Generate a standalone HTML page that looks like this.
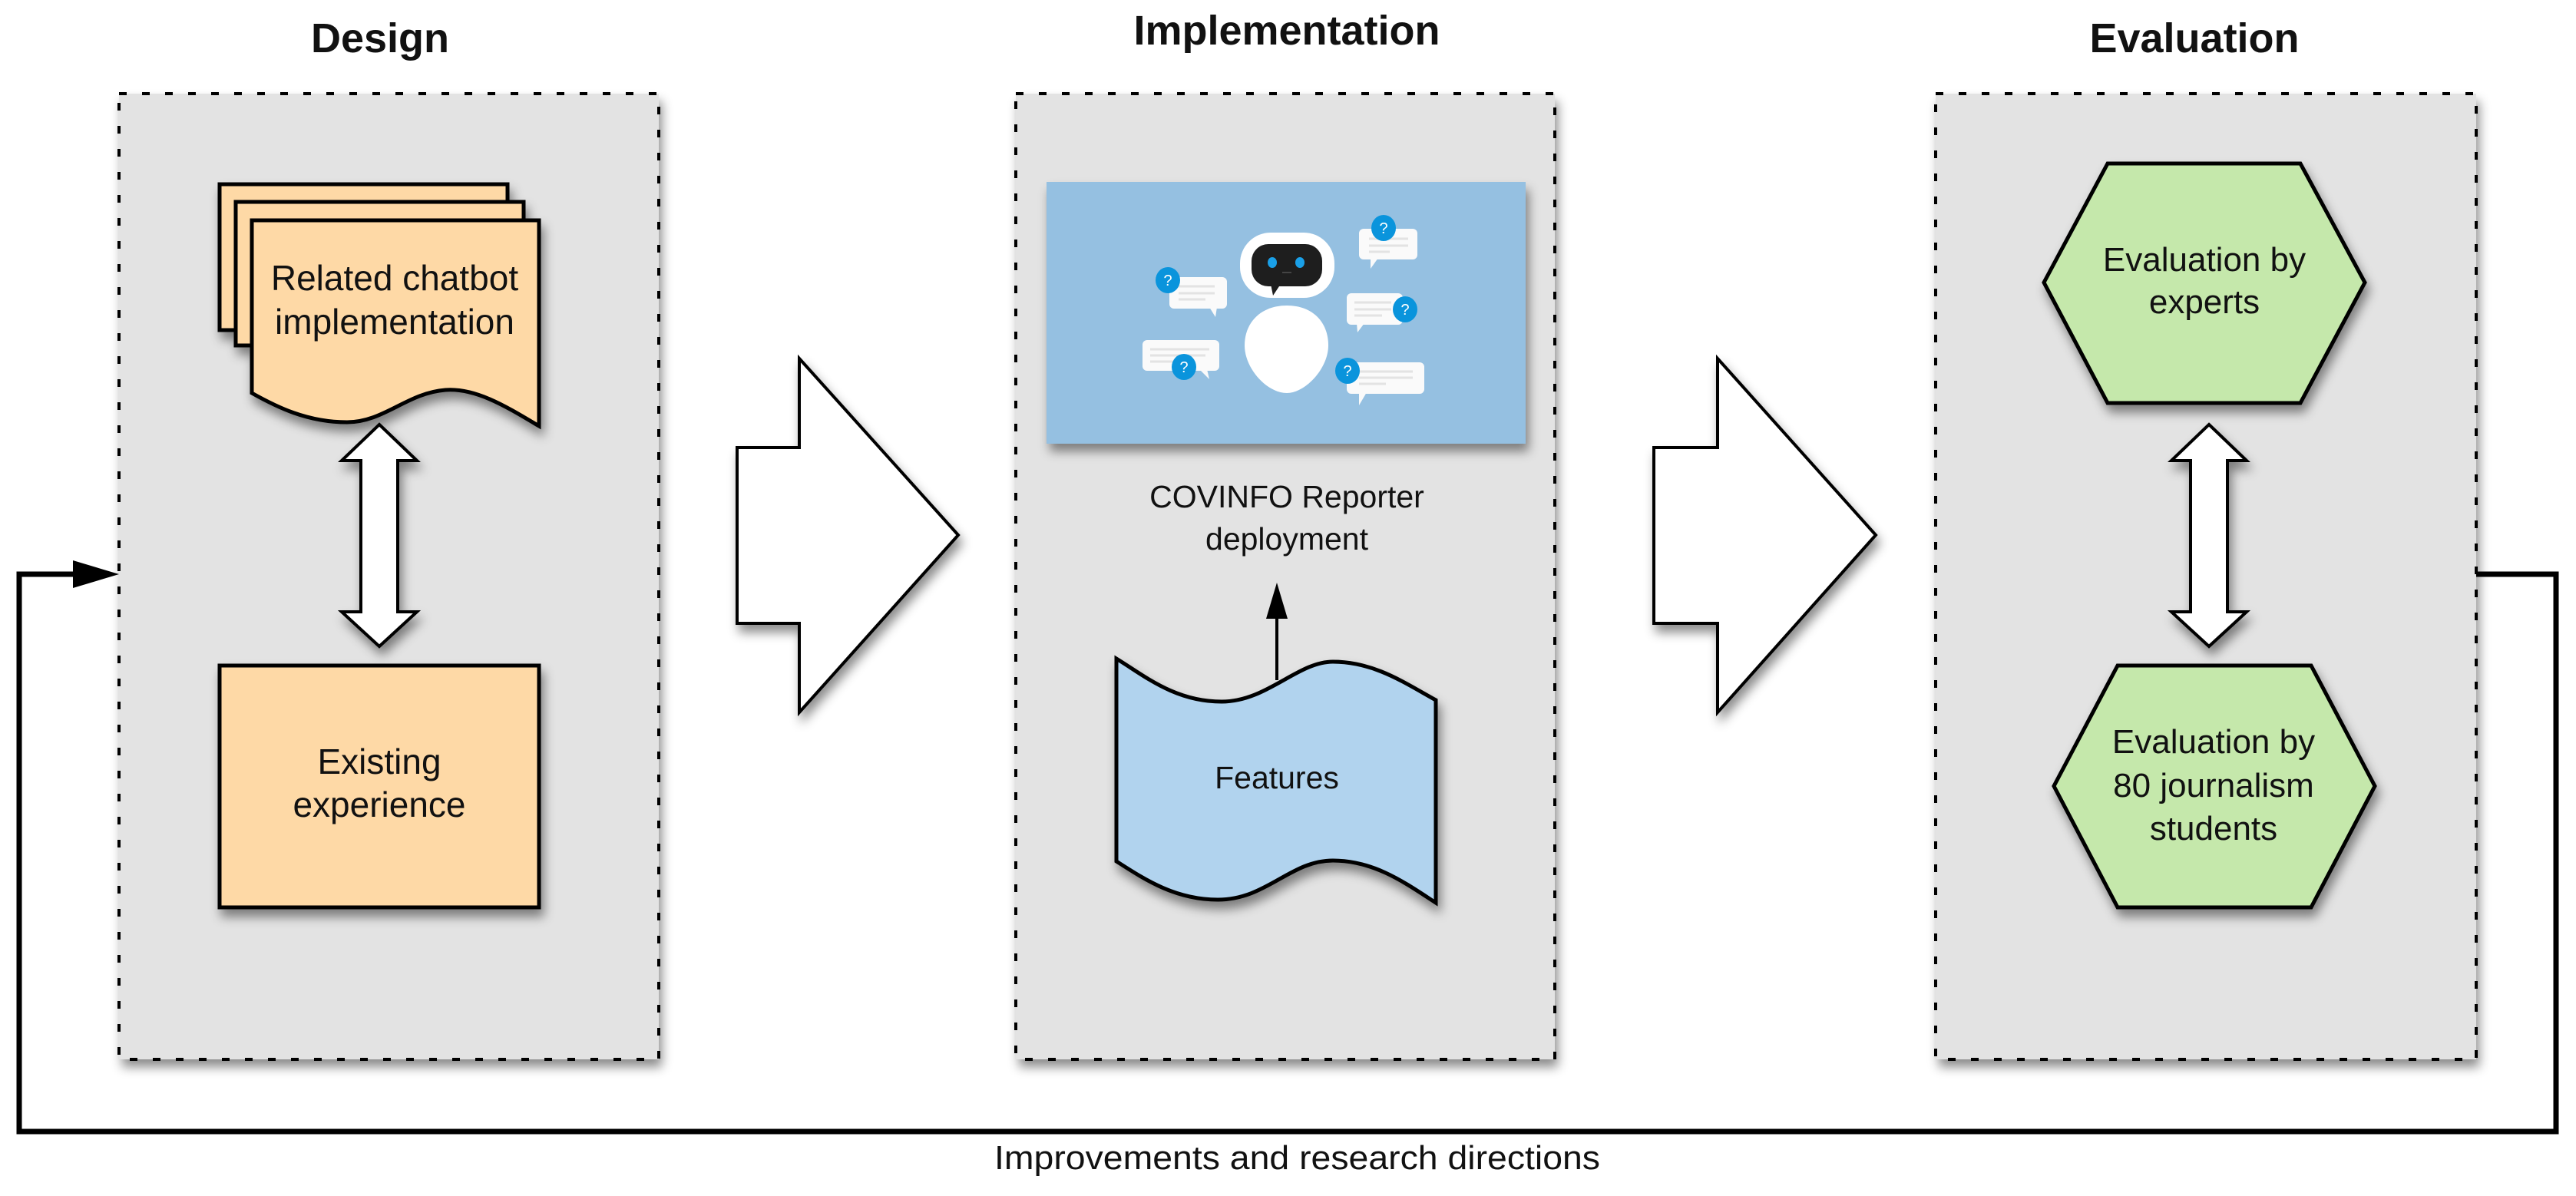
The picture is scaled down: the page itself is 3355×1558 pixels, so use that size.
<!DOCTYPE html>
<html><head><meta charset="utf-8"><style>
html,body{margin:0;padding:0;background:#fff}
svg{display:block}
text{font-family:"Liberation Sans",Arial,sans-serif;fill:#111}
</style></head><body>
<svg width="3355" height="1558" viewBox="0 0 3355 1558" xmlns="http://www.w3.org/2000/svg">
<defs>
<filter id="sh" x="-20%" y="-20%" width="150%" height="150%">
<feDropShadow dx="4" dy="10" stdDeviation="7" flood-color="#000" flood-opacity="0.45"/>
</filter>
</defs>

<text x="495" y="68" font-size="54" font-weight="bold" text-anchor="middle">Design</text>
<text x="1676" y="58" font-size="54" font-weight="bold" text-anchor="middle">Implementation</text>
<text x="2858" y="68" font-size="54" font-weight="bold" text-anchor="middle">Evaluation</text>

<g filter="url(#sh)">
<rect x="155" y="122" width="703" height="1258" fill="#e3e3e3"/>
<rect x="1323" y="122" width="702" height="1258" fill="#e3e3e3"/>
<rect x="2521" y="122" width="704" height="1258" fill="#e3e3e3"/>
</g>
<g fill="none" stroke="#000" stroke-width="4" stroke-dasharray="10 20">
<rect x="155" y="122" width="703" height="1258"/>
<rect x="1323" y="122" width="702" height="1258"/>
<rect x="2521" y="122" width="704" height="1258"/>
</g>

<polyline points="3225,748 3329,748 3329,1474 25,1474 25,748 100,748" fill="none" stroke="#000" stroke-width="7"/>
<polygon points="155,748 95,730 95,766" fill="#000"/>
<text x="1295" y="1523" font-size="44" textLength="789" lengthAdjust="spacingAndGlyphs">Improvements and research directions</text>

<g filter="url(#sh)" fill="#fff" stroke="#000" stroke-width="4">
<polygon points="960,583 1041,583 1041,467 1248,697 1041,928 1041,812 960,812"/>
<polygon points="2154,583 2237,583 2237,467 2443,697 2237,928 2237,812 2154,812"/>
</g>

<g filter="url(#sh)" fill="#fed9a6" stroke="#000" stroke-width="5">
<path d="M286,240 H661 V430 L286,430 Z" />
<path d="M307,263 H682 V450 L307,450 Z" />
<path d="M328,287 H702 V555 C660,530 620,505 580,508 C530,512 500,550 452,550 C400,550 360,530 328,512 Z"/>
</g>
<text x="514" y="378" font-size="46" text-anchor="middle">Related chatbot</text>
<text x="514" y="435" font-size="46" text-anchor="middle">implementation</text>

<polygon filter="url(#sh)" points="494,553 543,600 518,600 518,797 543,797 494,842 445,797 470,797 470,600 445,600" fill="#fff" stroke="#000" stroke-width="4"/>

<rect filter="url(#sh)" x="286" y="867" width="416" height="315" fill="#fed9a6" stroke="#000" stroke-width="5"/>
<text x="494" y="1008" font-size="46" text-anchor="middle">Existing</text>
<text x="494" y="1064" font-size="46" text-anchor="middle">experience</text>

<rect filter="url(#sh)" x="1363" y="237" width="624" height="341" fill="#95c0e1"/>
<g>
<g fill="#fafafa">
<rect x="1770" y="298" width="76" height="40" rx="6"/><polygon points="1785,336 1795,336 1785,350"/>
<rect x="1523" y="361" width="75" height="41" rx="6"/><polygon points="1575,400 1585,400 1583,413"/>
<rect x="1754" y="382" width="73" height="41" rx="6"/><polygon points="1767,421 1777,421 1768,433"/>
<rect x="1488" y="443" width="100" height="40" rx="6"/><polygon points="1562,481 1572,481 1575,494"/>
<rect x="1754" y="472" width="101" height="41" rx="6"/><polygon points="1770,511 1780,511 1770,528"/>
</g>
<g stroke="#e3e3e3" stroke-width="3">
<line x1="1783" y1="311" x2="1834" y2="311"/><line x1="1783" y1="320" x2="1834" y2="320"/><line x1="1783" y1="328" x2="1810" y2="328"/>
<line x1="1535" y1="373" x2="1582" y2="373"/><line x1="1535" y1="382" x2="1582" y2="382"/><line x1="1535" y1="390" x2="1570" y2="390"/>
<line x1="1764" y1="394" x2="1812" y2="394"/><line x1="1764" y1="403" x2="1812" y2="403"/><line x1="1764" y1="411" x2="1800" y2="411"/>
<line x1="1498" y1="455" x2="1575" y2="455"/><line x1="1498" y1="463" x2="1570" y2="463"/><line x1="1498" y1="471" x2="1530" y2="471"/>
<line x1="1770" y1="484" x2="1840" y2="484"/><line x1="1770" y1="492" x2="1840" y2="492"/><line x1="1770" y1="500" x2="1805" y2="500"/>
</g>
<g fill="#0a94dc">
<ellipse cx="1802" cy="297" rx="16" ry="17"/>
<ellipse cx="1521" cy="365" rx="16" ry="17"/>
<ellipse cx="1830" cy="403" rx="16" ry="17"/>
<ellipse cx="1542" cy="478" rx="16" ry="17"/>
<ellipse cx="1755" cy="483" rx="16" ry="17"/>
</g>
<g font-size="20" text-anchor="middle">
<text x="1802" y="304" style="fill:#fff">?</text>
<text x="1521" y="372" style="fill:#fff">?</text>
<text x="1830" y="410" style="fill:#fff">?</text>
<text x="1542" y="485" style="fill:#fff">?</text>
<text x="1755" y="490" style="fill:#fff">?</text>
</g>
<rect x="1615" y="303" width="123" height="85" rx="40" fill="#fff"/>
<rect x="1630" y="318" width="92" height="55" rx="22" fill="#1e1e1e"/>
<polygon points="1655,370 1668,370 1658,385" fill="#1e1e1e"/>
<ellipse cx="1657" cy="342" rx="6" ry="7" fill="#1aa0e8"/>
<ellipse cx="1693" cy="342" rx="6" ry="7" fill="#1aa0e8"/>
<line x1="1670" y1="355" x2="1682" y2="355" stroke="#444" stroke-width="2"/>
<path d="M1676,398 C1710,398 1730,420 1730,450 C1730,480 1700,512 1676,512 C1650,512 1621,480 1621,450 C1621,420 1642,398 1676,398 Z" fill="#fff"/>
</g>

<text x="1676" y="661" font-size="41" text-anchor="middle">COVINFO Reporter</text>
<text x="1676" y="716" font-size="41" text-anchor="middle">deployment</text>

<line x1="1663" y1="886" x2="1663" y2="800" stroke="#000" stroke-width="4"/>
<polygon points="1663,759 1677,806 1649,806" fill="#000"/>

<path filter="url(#sh)" d="M1454,858 C1490,880 1530,914 1591,914 C1650,914 1690,862 1736,862 C1790,862 1830,890 1870,912 V1176 C1830,1150 1790,1121 1736,1121 C1680,1121 1650,1172 1586,1172 C1530,1172 1490,1145 1454,1122 Z" fill="#b1d3ee" stroke="#000" stroke-width="5"/>
<text x="1663" y="1027" font-size="41" text-anchor="middle">Features</text>

<polygon filter="url(#sh)" points="2745,213 2996,213 3080,368 2996,525 2745,525 2662,368" fill="#c5e8ab" stroke="#000" stroke-width="5"/>
<text x="2871" y="353" font-size="44" text-anchor="middle">Evaluation by</text>
<text x="2871" y="408" font-size="44" text-anchor="middle">experts</text>

<polygon filter="url(#sh)" points="2877,553 2926,600 2901,600 2901,797 2926,797 2877,842 2828,797 2853,797 2853,600 2828,600" fill="#fff" stroke="#000" stroke-width="4"/>

<polygon filter="url(#sh)" points="2758,867 3010,867 3093,1024 3010,1182 2758,1182 2675,1024" fill="#c5e8ab" stroke="#000" stroke-width="5"/>
<text x="2883" y="981" font-size="44" text-anchor="middle">Evaluation by</text>
<text x="2883" y="1038" font-size="44" text-anchor="middle">80 journalism</text>
<text x="2883" y="1094" font-size="44" text-anchor="middle">students</text>
</svg>
</body></html>
